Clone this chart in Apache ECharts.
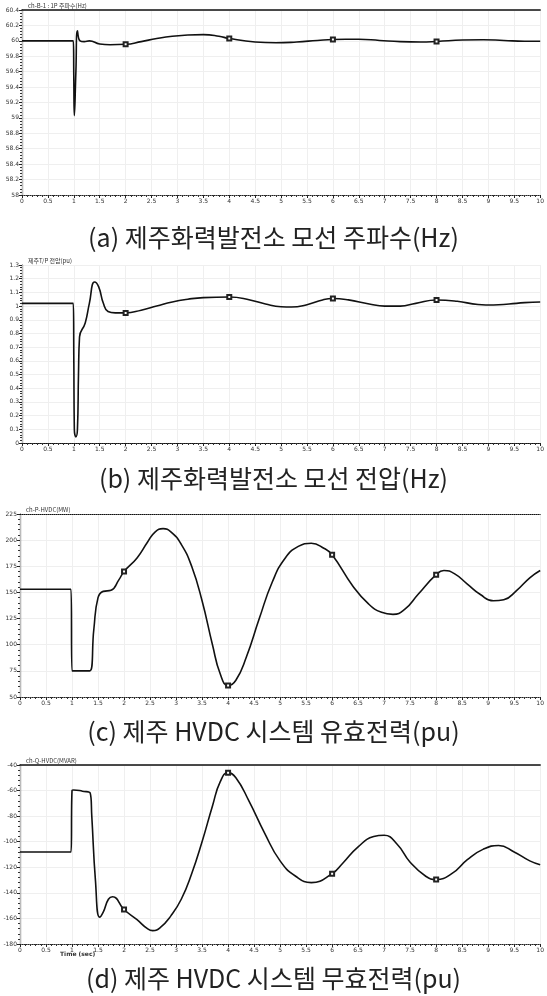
<!DOCTYPE html>
<html>
<head>
<meta charset="utf-8">
<script src="https://cdn.jsdelivr.net/npm/echarts@6/dist/echarts.min.js"></script>
<style>
html,body{margin:0;padding:0;background:#fff;}
#c{width:547px;height:996px;}
</style>
</head>
<body>
<div id="c"></div>
<script>
// ---- data ----
const markTimes = [2, 4, 6, 8];

const freqT = [0, 0.99, 1.0, 1.01, 1.04, 1.07, 1.12, 1.2, 1.3, 1.5, 1.7, 2.0, 2.3, 2.6, 2.9, 3.2, 3.5, 3.8, 4.0, 4.5, 4.9, 5.3, 5.7, 6.0, 6.5, 6.9, 7.3, 7.7, 8.0, 8.5, 8.9, 9.3, 9.7, 10];
const freqV = [60.0, 60.0, 59.5, 59.03, 59.6, 60.13, 60.0, 59.99, 60.0, 59.96, 59.95, 59.955, 59.99, 60.03, 60.06, 60.075, 60.08, 60.06, 60.03, 59.985, 59.975, 59.985, 60.005, 60.018, 60.02, 60.005, 59.99, 59.985, 59.992, 60.01, 60.015, 60.005, 59.995, 59.995];

const voltT = [0, 0.99, 1.0, 1.01, 1.04, 1.07, 1.09, 1.11, 1.22, 1.3, 1.4, 1.48, 1.57, 1.66, 1.8, 2.0, 2.3, 2.6, 2.9, 3.2, 3.5, 4.0, 4.4, 4.7, 5.0, 5.2, 5.5, 5.8, 6.0, 6.3, 6.7, 7.0, 7.3, 7.6, 8.0, 8.4, 8.8, 9.1, 9.4, 9.7, 10];
const voltV = [1.02, 1.02, 0.6, 0.1, 0.045, 0.1, 0.5, 0.774, 0.877, 1.02, 1.176, 1.14, 1.02, 0.96, 0.95, 0.95, 0.97, 1.0, 1.03, 1.05, 1.062, 1.066, 1.045, 1.015, 0.995, 0.993, 1.01, 1.045, 1.055, 1.045, 1.015, 1.0, 1.0, 1.02, 1.044, 1.035, 1.012, 1.008, 1.015, 1.025, 1.03];

const powerT = [0, 0.98, 1.0, 1.34, 1.42, 1.5, 1.6, 1.75, 1.9, 2.0, 2.25, 2.45, 2.6, 2.75, 2.9, 3.1, 3.3, 3.5, 3.7, 3.85, 4.0, 4.15, 4.35, 4.6, 4.85, 5.1, 5.35, 5.6, 5.85, 6.0, 6.4, 6.7, 6.95, 7.17, 7.4, 7.65, 8.0, 8.15, 8.35, 8.6, 8.85, 9.1, 9.3, 9.55, 9.8, 10];
const powerV = [153, 153, 75, 75, 115, 145, 151, 152, 162, 170, 183, 198, 208, 211, 208, 196, 175, 142, 100, 72, 61, 66, 88, 125, 160, 183, 194, 197, 192, 186, 156, 139, 131, 129, 134, 148, 167, 171, 168, 158, 148, 142, 143, 152, 164, 171];

const reactT = [0, 0.98, 1.0, 1.03, 1.2, 1.35, 1.38, 1.45, 1.53, 1.6, 1.7, 1.78, 2.0, 2.25, 2.45, 2.55, 2.7, 2.9, 3.1, 3.3, 3.5, 3.7, 3.85, 4.0, 4.15, 4.4, 4.7, 5.0, 5.3, 5.6, 6.0, 6.2, 6.5, 6.8, 7.0, 7.25, 7.5, 7.8, 8.0, 8.3, 8.6, 8.9, 9.2, 9.5, 9.8, 10];
const reactV = [-108, -108, -60, -59.5, -60.5, -62, -80, -130, -159, -155, -145, -143, -153, -161, -168, -169.5, -167, -158, -145, -125, -100, -72, -53, -46, -50, -68, -93, -115, -127, -132, -125, -117, -104, -96, -95, -102, -116, -127, -129.5, -125, -114, -106, -103, -108, -115, -118];

const captions = [
  '(a) 제주화력발전소 모선 주파수(Hz)',
  '(b) 제주화력발전소 모선 전압(Hz)',
  '(c) 제주 HVDC 시스템 유효전력(pu)',
  '(d) 제주 HVDC 시스템 무효전력(pu)'
];
const chLabels = ['ch-B-1 : 1P 주파수(Hz)', '제주T/P 전압(pu)', 'ch-P-HVDC(MW)', 'ch-Q-HVDC(MVAR)'];
const xTitle = 'Time (sec)';

// ---- layout ----
const grids = [
  {left: 22, top: 10, right: 2, height: 185},
  {left: 22, top: 265, right: 2, height: 178},
  {left: 20, top: 514, right: 2, height: 183},
  {left: 20, top: 765, right: 2, height: 179}
];
const yRanges = [
  {min: 58, max: 60.4, interval: 0.2},
  {min: 0, max: 1.3, interval: 0.1},
  {min: 50, max: 225, interval: 25},
  {min: -180, max: -40, interval: 20}
];
const captionTops = [220, 461, 714, 961];
const topBorderType = ['solid', 'dotted', 'dotted', 'solid'];
const series = [[freqT, freqV], [voltT, voltV], [powerT, powerV], [reactT, reactV]];

const fmtX = v => String(Math.round(v * 10) / 10);

const xAxes = [], yAxes = [], ser = [], titles = [], graphics = [];
grids.forEach((g, i) => {
  xAxes.push({
    type: 'value', gridIndex: i, min: 0, max: 10, interval: 0.5,
    axisLine: {lineStyle: {color: '#222', width: 1, type: 'dotted'}},
    axisTick: {show: true, length: 3, lineStyle: {color: '#222'}},
    minorTick: {show: true, splitNumber: 5, length: 2, lineStyle: {color: '#333'}},
    axisLabel: {fontSize: 6, color: '#333', margin: 3, formatter: fmtX, fontFamily: 'DejaVu Sans'},
    splitLine: {show: true, lineStyle: {color: '#efefef', width: 1}}
  });
  xAxes.push({
    type: 'value', gridIndex: i, min: 0, max: 10, position: 'top',
    axisLine: {show: true, lineStyle: {color: '#111', width: i === 0 || i === 3 ? 1.5 : 1, type: topBorderType[i]}},
    axisTick: {show: false}, axisLabel: {show: false}, splitLine: {show: false}
  });
  const r = yRanges[i];
  yAxes.push({
    type: 'value', gridIndex: i, min: r.min, max: r.max, interval: r.interval,
    axisLine: {show: true, lineStyle: {color: '#222', width: 1.2}},
    axisTick: {show: true, length: 3, lineStyle: {color: '#222'}},
    minorTick: {show: true, splitNumber: 5, length: 2, lineStyle: {color: '#333'}},
    axisLabel: {fontSize: 6, color: '#333', margin: 3, fontFamily: 'DejaVu Sans',
      formatter: v => String(Math.round(v * 100) / 100)},
    splitLine: {show: true, lineStyle: {color: '#efefef', width: 1}}
  });
  yAxes.push({
    type: 'value', gridIndex: i, min: r.min, max: r.max, position: 'right',
    axisLine: {show: true, lineStyle: {color: '#bbb', width: 1}},
    axisTick: {show: false}, axisLabel: {show: false}, splitLine: {show: false}
  });
  const [T, V] = series[i];
  ser.push({
    type: 'line', xAxisIndex: 2 * i, yAxisIndex: 2 * i,
    data: T.map((t, k) => [t, V[k]]),
    smooth: 0.5, showSymbol: true,
    symbol: (val) => markTimes.indexOf(val[0]) >= 0 ? 'emptyRect' : 'none',
    symbolSize: 4,
    itemStyle: {color: '#222', borderWidth: 1},
    lineStyle: {color: '#111', width: 1.6}
  });
  titles.push({
    text: captions[i], left: 'center', top: captionTops[i],
    textStyle: {fontSize: 25, fontWeight: 'normal', color: '#222', fontFamily: 'Noto Sans CJK KR'}
  });
  graphics.push({
    type: 'text', left: g.left + 6, top: g.top - 7,
    style: {text: chLabels[i], fontSize: 6, fill: '#333', fontFamily: 'Noto Sans CJK KR'}
  });
});
graphics.push({
  type: 'text', left: 60, top: 951,
  style: {text: xTitle, fontSize: 6, fontWeight: 'bold', fill: '#333', fontFamily: 'DejaVu Sans'}
});

const chart = echarts.init(document.getElementById('c'), null, {renderer: 'canvas'});
chart.setOption({
  animation: false,
  backgroundColor: '#fff',
  title: titles,
  grid: grids,
  xAxis: xAxes,
  yAxis: yAxes,
  series: ser,
  graphic: graphics
});
</script>
</body>
</html>
